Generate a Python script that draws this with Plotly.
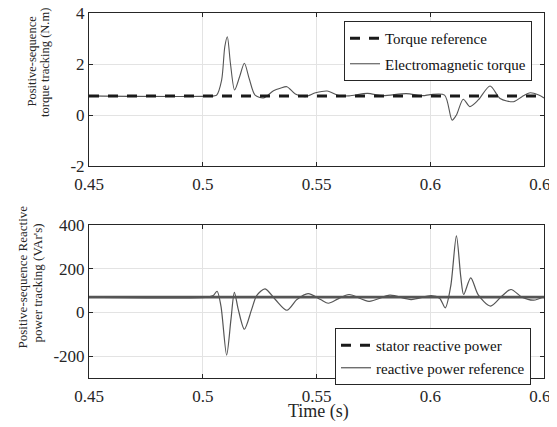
import plotly.graph_objects as go

# Torque panel data
t_torque = [0.45, 0.505, 0.5061, 0.5083, 0.5097, 0.5108, 0.5122, 0.514, 0.5162, 0.5183, 0.5205,
            0.523, 0.5267, 0.5311, 0.5341, 0.537, 0.5407, 0.5451, 0.5496, 0.5547, 0.5599, 0.5643,
            0.5724, 0.579, 0.5894, 0.5968, 0.6, 0.6063, 0.6096, 0.6115, 0.6145, 0.6174, 0.6211,
            0.6263, 0.6307, 0.6366, 0.6403, 0.644, 0.6477, 0.65]
v_torque = [0.75, 0.75, 0.78, 1.37, 2.68, 3.07, 2.0, 0.98, 1.5, 2.03, 1.4,
            0.78, 0.67, 0.95, 1.05, 1.11, 0.82, 0.72, 0.87, 0.94, 0.76, 0.75,
            0.85, 0.76, 0.84, 0.76, 0.8, 0.78, -0.2, 0.0, 0.62, 0.33, 0.59,
            1.14, 0.65, 0.52, 0.72, 0.87, 0.78, 0.67]
t_ref = [0.45, 0.65]
torque_ref = [0.75, 0.75]

# Reactive power panel data
t_q = [0.45, 0.502, 0.5046, 0.5063, 0.508, 0.5105, 0.5124, 0.5139, 0.5156, 0.5183, 0.5215,
       0.5237, 0.5274, 0.5319, 0.537, 0.5414, 0.5463, 0.5518, 0.5552, 0.5595, 0.5643, 0.5731,
       0.5823, 0.5916, 0.6004, 0.6041, 0.6066, 0.609, 0.6115, 0.6134, 0.6147, 0.6178, 0.6211,
       0.6265, 0.6314, 0.6355, 0.6403, 0.6454, 0.65]
v_q = [70, 70, 77, 97, 29, -195, -32, 92, 14, -77, 14,
       77, 108, 59, 10, 59, 86, 59, 42, 62, 82, 51,
       79, 59, 77, 65, 21, 120, 350, 165, 82, 158, 80,
       29, 74, 105, 70, 56, 72]
q_ref = [70, 70]

x_ticks = [0.45, 0.5, 0.55, 0.6, 0.65]
x_labels = ["0.45", "0.5", "0.55", "0.6", "0.65"]
y1_ticks = [-2, 0, 2, 4]
y1_labels = ["-2", "0", "2", "4"]
y2_ticks = [-200, 0, 200, 400]
y2_labels = ["-200", "0", "200", "400"]

FONT = "Liberation Serif, Times New Roman, serif"
AX = "#262626"

# page body has an 8px margin: work in window pixels, convert to figure pixels
OFF = 8
WIN_W, WIN_H = 557, 427
W, H = WIN_W - OFF, WIN_H - OFF
PLOT_L, PLOT_R, PLOT_T, PLOT_B = 89, 544, 13, 378  # window pixels
ML = PLOT_L - OFF
MT = PLOT_T - OFF
MR = W - (PLOT_R - OFF)
MB = H - (PLOT_B - OFF)
PW, PH = W - ML - MR, H - MT - MB


def px(xw):
    return (xw - PLOT_L) / PW


def py(yw):
    return (PLOT_B - yw) / PH


fig = go.Figure()
fig.add_trace(go.Scatter(x=t_torque, y=v_torque, mode="lines", name="Electromagnetic torque",
                         line=dict(color="#555555", width=1.1, shape="spline", smoothing=0.8),
                         xaxis="x", yaxis="y", legend="legend", legendrank=2, legendgroup="b"))
fig.add_trace(go.Scatter(x=t_ref, y=torque_ref, mode="lines", name="Torque reference",
                         line=dict(color="#1a1a1a", width=3, dash="10px,9px"),
                         xaxis="x", yaxis="y", legend="legend", legendrank=1, legendgroup="a"))

fig.add_trace(go.Scatter(x=t_ref, y=q_ref, mode="lines", showlegend=False,
                         line=dict(color="#555555", width=2.6),
                         xaxis="x2", yaxis="y2", hoverinfo="skip"))
fig.add_trace(go.Scatter(x=t_q, y=v_q, mode="lines", name="reactive power reference",
                         line=dict(color="#555555", width=1.2, shape="spline", smoothing=0.8),
                         xaxis="x2", yaxis="y2", legend="legend2", legendrank=2))
fig.add_trace(go.Scatter(x=[None], y=[None], mode="lines", name="stator reactive power",
                         line=dict(color="#1a1a1a", width=3, dash="10px,9px"),
                         xaxis="x2", yaxis="y2", legend="legend2", legendrank=1))

xcommon = dict(range=[0.45, 0.65], tickvals=x_ticks, ticktext=x_labels,
               showgrid=True, gridcolor="#e3e3e3", gridwidth=1, zeroline=False,
               showline=True, linecolor=AX, linewidth=1, mirror="ticks",
               ticks="inside", ticklen=4, tickcolor=AX, ticklabeloverflow="allow",
               ticklabelstandoff=3, automargin=False,
               tickfont=dict(family=FONT, size=17, color=AX))
ycommon = dict(showgrid=True, gridcolor="#e3e3e3", gridwidth=1, zeroline=False,
               showline=True, linecolor=AX, linewidth=1, mirror="ticks",
               ticks="inside", ticklen=4, tickcolor=AX, automargin=False,
               ticklabeloverflow="allow",
               tickfont=dict(family=FONT, size=17, color=AX))

annotations = [
    dict(text="Positive-sequence", x=px(32), y=py(61.5), textangle=-90,
         font=dict(family=FONT, size=12.5, color=AX)),
    dict(text="torque tracking (N.m)", x=px(45), y=py(63), textangle=-90,
         font=dict(family=FONT, size=12.5, color=AX)),
    dict(text="Positive-sequence Reactive", x=px(22), y=py(277.5), textangle=-90,
         font=dict(family=FONT, size=13, color=AX)),
    dict(text="power tracking (VAr's)", x=px(37), y=py(283.5), textangle=-90,
         font=dict(family=FONT, size=13, color=AX)),
    dict(text="Time (s)", x=px(318), y=py(411),
         font=dict(family=FONT, size=18, color=AX)),
]
for a in annotations:
    a.update(xref="paper", yref="paper", showarrow=False, xanchor="center", yanchor="middle")

fig.update_layout(
    width=W, height=H,
    margin=dict(l=ML, r=MR, t=MT, b=MB),
    paper_bgcolor="white", plot_bgcolor="white",
    font=dict(family=FONT, color=AX),
    xaxis=dict(xcommon, domain=[0, 1], anchor="y"),
    yaxis=dict(ycommon, domain=[py(166), 1], anchor="x", range=[-2, 4],
               tickvals=y1_ticks, ticktext=y1_labels),
    xaxis2=dict(xcommon, domain=[0, 1], anchor="y2"),
    yaxis2=dict(ycommon, domain=[0, py(225)], anchor="x2", range=[-300, 400],
                tickvals=y2_ticks, ticktext=y2_labels),
    legend=dict(x=px(532), y=py(21), xanchor="right", yanchor="top",
                bgcolor="white", bordercolor=AX, borderwidth=1,
                font=dict(family=FONT, size=15, color="#111111"),
                tracegroupgap=3, itemwidth=30),
    legend2=dict(x=px(531), y=py(328), xanchor="right", yanchor="top",
                 bgcolor="white", bordercolor=AX, borderwidth=1,
                 font=dict(family=FONT, size=15, color="#111111"),
                 tracegroupgap=0, itemwidth=30),
    annotations=annotations,
    showlegend=True,
)

fig.write_html("out.html")
